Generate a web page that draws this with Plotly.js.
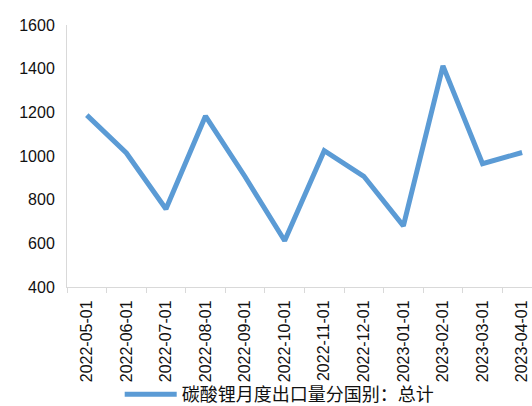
<!DOCTYPE html>
<html>
<head>
<meta charset="utf-8">
<script src="https://cdn.plot.ly/plotly-3.0.1.min.js"></script>
<style>html,body{margin:0;padding:0;background:#fff;}#chart{width:532px;height:406px;}</style>
</head>
<body>
<div id="chart"></div>
<script>
const categories = ["2022-05-01","2022-06-01","2022-07-01","2022-08-01","2022-09-01","2022-10-01","2022-11-01","2022-12-01","2023-01-01","2023-02-01","2023-03-01","2023-04-01"];
const exportVolume = [1187, 1014, 757, 1183, 905, 612, 1024, 907, 680, 1413, 965, 1016];
const seriesName = "碳酸锂月度出口量分国别：总计";
const yTicks = [400, 600, 800, 1000, 1200, 1400, 1600];

const trace = {
  type: "scatter",
  mode: "lines",
  x: categories,
  y: exportVolume,
  name: seriesName,
  line: {color: "#5B9BD5", width: 5, shape: "linear"},
  showlegend: true
};

const layout = {
  width: 532, height: 406,
  margin: {l: 67, r: 0, t: 25, b: 119},
  paper_bgcolor: "#fff", plot_bgcolor: "#fff",
  font: {family: "Liberation Sans, Noto Sans CJK SC, sans-serif", size: 16, color: "#111"},
  xaxis: {
    type: "category",
    range: [-0.5, 11.25],
    tickangle: -90,
    tickson: "boundaries",
    ticks: "outside", ticklen: 5, tickcolor: "#d9d9d9",
    ticklabelstandoff: 6,
    showline: true, linecolor: "#d9d9d9", linewidth: 1,
    showgrid: false, zeroline: false,
    tickfont: {size: 16, color: "#111"}
  },
  yaxis: {
    range: [400, 1600],
    tickvals: yTicks,
    ticktext: yTicks.map(String),
    showline: true, linecolor: "#d9d9d9", linewidth: 1,
    showgrid: false, zeroline: false,
    ticks: "", ticklabelstandoff: 8,
    tickfont: {size: 16, color: "#111"}
  },
  showlegend: true,
  legend: {
    orientation: "h",
    xref: "container", yref: "container",
    x: 0.225, xanchor: "left",
    y: 0.028, yanchor: "middle",
    itemwidth: 52,
    font: {family: "Noto Sans CJK SC, sans-serif", size: 18, color: "#111"},
    bgcolor: "rgba(0,0,0,0)"
  }
};

Plotly.newPlot("chart", [trace], layout, {displayModeBar: false, staticPlot: true});
</script>
</body>
</html>
